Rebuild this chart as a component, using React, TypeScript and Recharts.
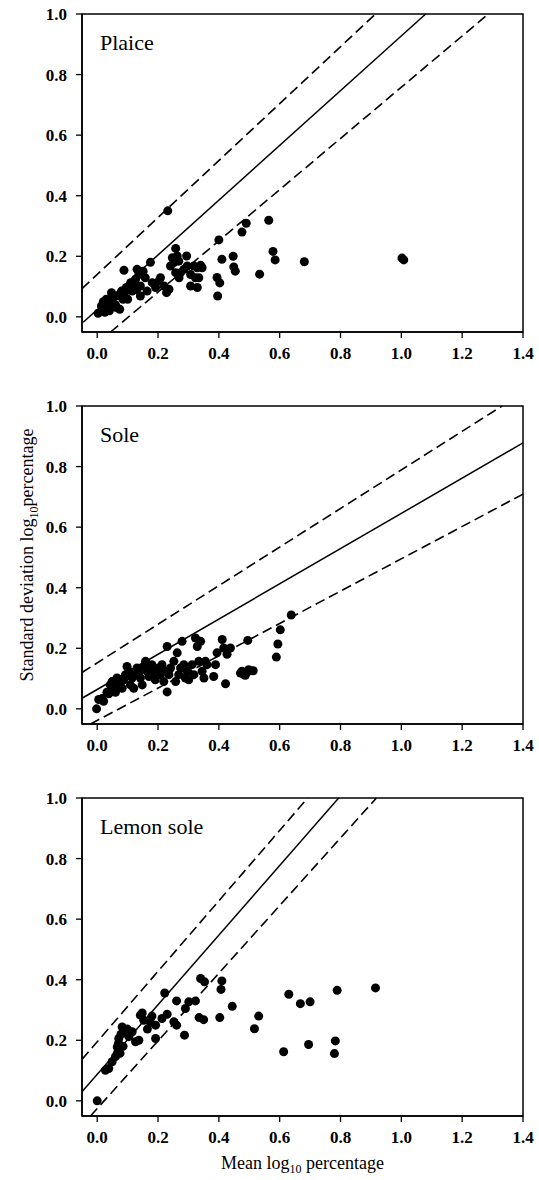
import { Label, ReferenceArea, Scatter, ScatterChart, XAxis, YAxis } from "recharts";

// Mean vs SD of log10 percentage, three species stacked.
// Points: [mean, sd]
const plaicePoints: [number, number][] = [
  [0.003, 0.012], [0.014, 0.036], [0.019, 0.025], [0.03, 0.058], [0.036, 0.036],
  [0.047, 0.08], [0.047, 0.047], [0.058, 0.069], [0.063, 0.031], [0.074, 0.025],
  [0.08, 0.085], [0.085, 0.058], [0.096, 0.097], [0.1, 0.058], [0.088, 0.154],
  [0.11, 0.113], [0.115, 0.085], [0.126, 0.124], [0.131, 0.157], [0.137, 0.14],
  [0.142, 0.102], [0.142, 0.069], [0.151, 0.151], [0.158, 0.129], [0.164, 0.085],
  [0.175, 0.18], [0.181, 0.113], [0.192, 0.097], [0.203, 0.119], [0.208, 0.129],
  [0.228, 0.08], [0.236, 0.091], [0.241, 0.168], [0.247, 0.195], [0.258, 0.226],
  [0.263, 0.201], [0.252, 0.179], [0.268, 0.184], [0.258, 0.146], [0.274, 0.146],
  [0.285, 0.157], [0.296, 0.168], [0.294, 0.201], [0.307, 0.14], [0.318, 0.168],
  [0.329, 0.162], [0.323, 0.129], [0.307, 0.102], [0.329, 0.097], [0.34, 0.17],
  [0.345, 0.162], [0.334, 0.129], [0.269, 0.129], [0.22, 0.102], [0.232, 0.35],
  [0.02, 0.05], [0.05, 0.06], [0.07, 0.07], [0.09, 0.08], [0.105, 0.1],
  [0.12, 0.1], [0.13, 0.09], [0.06, 0.04], [0.04, 0.02], [0.025, 0.015],
  [0.4, 0.254], [0.49, 0.309], [0.476, 0.28], [0.41, 0.19], [0.447, 0.2],
  [0.449, 0.165], [0.454, 0.151], [0.394, 0.13], [0.403, 0.112], [0.396, 0.069],
  [0.534, 0.141], [0.564, 0.319], [0.578, 0.216], [0.585, 0.188], [0.681, 0.182],
  [1.002, 0.194], [1.008, 0.188],
];

const solePoints: [number, number][] = [
  [-0.002, 0], [0.005, 0.031], [0.016, 0.034], [0.021, 0.025], [0.032, 0.055],
  [0.038, 0.05], [0.043, 0.079], [0.049, 0.09], [0.054, 0.068], [0.06, 0.055],
  [0.065, 0.102], [0.071, 0.09], [0.076, 0.079], [0.082, 0.068], [0.087, 0.096],
  [0.093, 0.113], [0.098, 0.14], [0.104, 0.124], [0.109, 0.079], [0.115, 0.102],
  [0.12, 0.068], [0.126, 0.113], [0.131, 0.135], [0.137, 0.118], [0.142, 0.102],
  [0.148, 0.079], [0.153, 0.14], [0.159, 0.157], [0.164, 0.124], [0.17, 0.107],
  [0.175, 0.135], [0.18, 0.146], [0.186, 0.113], [0.191, 0.096], [0.197, 0.13],
  [0.202, 0.135], [0.208, 0.113], [0.219, 0.09], [0.213, 0.146], [0.224, 0.124],
  [0.23, 0.206], [0.23, 0.056], [0.236, 0.113], [0.241, 0.135], [0.252, 0.157],
  [0.258, 0.09], [0.263, 0.185], [0.268, 0.113], [0.274, 0.135], [0.279, 0.223],
  [0.285, 0.146], [0.29, 0.102], [0.296, 0.124], [0.301, 0.096], [0.312, 0.146],
  [0.318, 0.113], [0.323, 0.234], [0.329, 0.206], [0.34, 0.223], [0.334, 0.157],
  [0.345, 0.124], [0.351, 0.102], [0.356, 0.157], [0.361, 0.146], [0.383, 0.107],
  [0.389, 0.146], [0.394, 0.185], [0.411, 0.229], [0.416, 0.201], [0.422, 0.083],
  [0.427, 0.18], [0.438, 0.201], [0.471, 0.118], [0.476, 0.124], [0.482, 0.113],
  [0.495, 0.226], [0.504, 0.126], [0.498, 0.129], [0.513, 0.126], [0.487, 0.111],
  [0.638, 0.31], [0.602, 0.261], [0.594, 0.214], [0.589, 0.171],
];

const lemonPoints: [number, number][] = [
  [0, 0], [0.027, 0.101], [0.038, 0.107], [0.049, 0.129], [0.06, 0.146],
  [0.066, 0.157], [0.066, 0.178], [0.071, 0.206], [0.075, 0.157], [0.082, 0.244],
  [0.07, 0.19], [0.078, 0.22], [0.085, 0.18], [0.093, 0.225], [0.099, 0.237],
  [0.104, 0.212], [0.11, 0.225], [0.115, 0.228], [0.126, 0.195], [0.137, 0.2],
  [0.142, 0.283], [0.148, 0.29], [0.153, 0.266], [0.165, 0.237], [0.175, 0.259],
  [0.18, 0.28], [0.192, 0.25], [0.192, 0.206], [0.213, 0.272], [0.222, 0.356],
  [0.23, 0.286], [0.252, 0.261], [0.261, 0.25], [0.261, 0.33], [0.287, 0.217],
  [0.29, 0.305], [0.301, 0.327], [0.323, 0.33], [0.335, 0.275], [0.35, 0.268],
  [0.34, 0.404], [0.353, 0.393], [0.41, 0.396], [0.407, 0.368], [0.403, 0.275],
  [0.444, 0.312], [0.531, 0.28], [0.517, 0.238], [0.613, 0.162], [0.63, 0.352],
  [0.668, 0.321], [0.7, 0.327], [0.695, 0.186], [0.783, 0.198], [0.78, 0.156],
  [0.789, 0.365], [0.915, 0.373],
];

// regression line + upper/lower dashed bands, endpoints only
const plaiceFit: [number, number][] = [[-0.046, -0.018], [1.08, 1.0]];
const plaiceUpper: [number, number][] = [[-0.05, 0.093], [0.915, 1.0]];
const plaiceLower: [number, number][] = [[0.044, -0.05], [1.28, 0.995]];

const soleFit: [number, number][] = [[-0.05, 0.035], [1.4, 0.878]];
const soleUpper: [number, number][] = [[-0.05, 0.12], [1.331, 1.0]];
const soleLower: [number, number][] = [[-0.022, -0.05], [1.4, 0.709]];

const lemonFit: [number, number][] = [[-0.05, 0.03], [0.794, 1.0]];
const lemonUpper: [number, number][] = [[-0.05, 0.137], [0.692, 1.0]];
const lemonLower: [number, number][] = [[-0.022, -0.05], [0.918, 1.0]];

const X_TICKS = [0, 0.2, 0.4, 0.6, 0.8, 1.0, 1.2, 1.4];
const Y_TICKS = [0, 0.2, 0.4, 0.6, 0.8, 1.0];
const X_DOMAIN: [number, number] = [-0.05, 1.4];
const Y_DOMAIN: [number, number] = [-0.05, 1.0];

const SERIF = "'Liberation Serif', 'Times New Roman', serif";
const W = 539;
const TOP = 14;
const PLOT_H = 318;

const toXY = (pts: [number, number][]) => pts.map(([x, y]) => ({ x, y }));

const tickStyle = { fill: "#000", fontSize: 17, fontWeight: "bold", fontFamily: SERIF } as const;

const Dot = (p: any) => <circle cx={p.cx} cy={p.cy} r={4.5} fill="#000" />;
const NoDot = () => <g />;

function XTitle(props: any) {
  const { x, y, width } = props.viewBox;
  return (
    <text x={x + width / 2} y={y + 53} textAnchor="middle" fontFamily={SERIF} fontSize={18} fill="#000">
      Mean log
      <tspan fontSize={12} dy={4}>10</tspan>
      <tspan dy={-4}> percentage</tspan>
    </text>
  );
}

function YTitle(props: any) {
  const { y, height } = props.viewBox;
  const cx = 33;
  const cy = y + height / 2 - 10;
  return (
    <text
      x={cx}
      y={cy}
      transform={`rotate(-90, ${cx}, ${cy})`}
      textAnchor="middle"
      fontFamily={SERIF}
      fontSize={18}
      fill="#000"
    >
      Standard deviation log
      <tspan fontSize={12} dy={5}>10</tspan>
      <tspan dy={-5}>percentage</tspan>
    </text>
  );
}

function Panel({
  title,
  points,
  fit,
  upper,
  lower,
  xTitle,
  yTitle,
}: {
  title: string;
  points: [number, number][];
  fit: [number, number][];
  upper: [number, number][];
  lower: [number, number][];
  xTitle?: boolean;
  yTitle?: boolean;
}) {
  const xAxisH = xTitle ? 60 : 30;
  const height = xTitle ? 396 : 392;
  const dashed = { stroke: "#000", strokeWidth: 1.6, strokeDasharray: "10 5" };
  return (
    <ScatterChart
      width={W}
      height={height}
      margin={{ top: TOP, right: 16, left: 30, bottom: height - TOP - PLOT_H - xAxisH }}
    >
      <XAxis
        type="number"
        dataKey="x"
        domain={X_DOMAIN}
        ticks={X_TICKS}
        tickFormatter={(v: number) => v.toFixed(1)}
        tick={tickStyle}
        tickSize={6}
        tickMargin={9}
        tickLine={{ stroke: "#000", strokeWidth: 1.3 }}
        axisLine={{ stroke: "#000", strokeWidth: 1.5 }}
        height={xAxisH}
        interval={0}
      >
        {xTitle && <Label content={XTitle} />}
      </XAxis>
      <YAxis
        type="number"
        dataKey="y"
        domain={Y_DOMAIN}
        ticks={Y_TICKS}
        tickFormatter={(v: number) => v.toFixed(1)}
        tick={tickStyle}
        tickSize={6}
        tickMargin={9}
        tickLine={{ stroke: "#000", strokeWidth: 1.3 }}
        axisLine={{ stroke: "#000", strokeWidth: 1.5 }}
        width={52}
        interval={0}
      >
        {yTitle && <Label content={YTitle} />}
      </YAxis>
      <ReferenceArea
        x1={X_DOMAIN[0]}
        x2={X_DOMAIN[1]}
        y1={Y_DOMAIN[0]}
        y2={Y_DOMAIN[1]}
        fill="none"
        stroke="#000"
        strokeWidth={1.5}
        label={{
          content: (p: any) => (
            <text x={p.viewBox.x + 18} y={p.viewBox.y + 36} fontFamily={SERIF} fontSize={22} fill="#000">
              {title}
            </text>
          ),
        }}
      />
      <Scatter data={toXY(upper)} shape={NoDot} line={dashed} isAnimationActive={false} />
      <Scatter data={toXY(lower)} shape={NoDot} line={dashed} isAnimationActive={false} />
      <Scatter
        data={toXY(fit)}
        shape={NoDot}
        line={{ stroke: "#000", strokeWidth: 1.5 }}
        isAnimationActive={false}
      />
      <Scatter data={toXY(points)} shape={Dot} isAnimationActive={false} />
    </ScatterChart>
  );
}

export default function App() {
  return (
    <div style={{ position: "absolute", left: 0, top: 0, width: W, background: "#fff" }}>
      <Panel title="Plaice" points={plaicePoints} fit={plaiceFit} upper={plaiceUpper} lower={plaiceLower} />
      <Panel title="Sole" points={solePoints} fit={soleFit} upper={soleUpper} lower={soleLower} yTitle />
      <Panel
        title="Lemon sole"
        points={lemonPoints}
        fit={lemonFit}
        upper={lemonUpper}
        lower={lemonLower}
        xTitle
      />
    </div>
  );
}
